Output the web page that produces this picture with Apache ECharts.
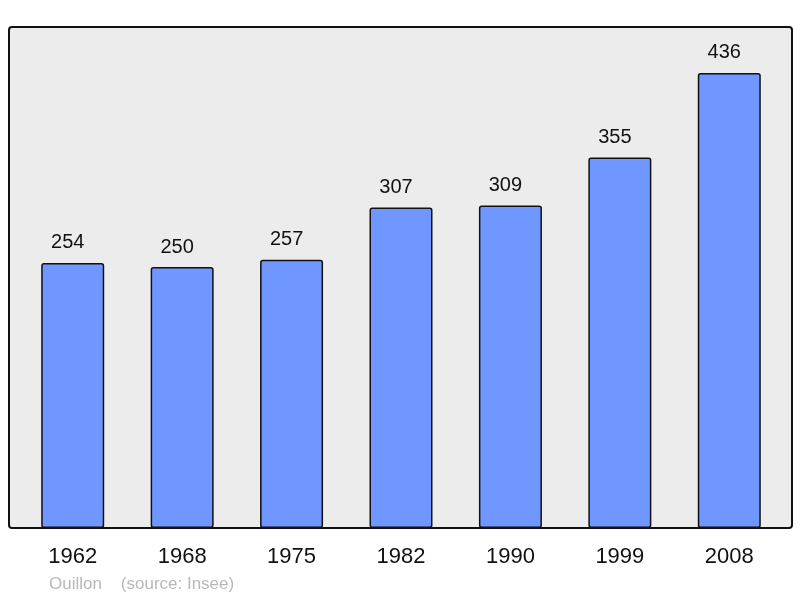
<!DOCTYPE html>
<html>
<head>
<meta charset="utf-8">
<script src="https://cdn.jsdelivr.net/npm/echarts@6/dist/echarts.min.js"></script>
<style>
  html, body { margin: 0; padding: 0; background: #fff; }
  #chart { width: 800px; height: 598px; }
</style>
</head>
<body>
<div id="chart"></div>
<script>
// population figures
const years = ['1962', '1968', '1975', '1982', '1990', '1999', '2008']
const population = [254, 250, 257, 307, 309, 355, 436]

const chart = echarts.init(document.getElementById('chart'), null, { renderer: 'canvas' })
chart.setOption({
  animation: false,
  backgroundColor: '#ffffff',
  textStyle: { fontFamily: 'Liberation Sans, Arial, sans-serif' },
  grid: {
    left: 18,
    top: 27,
    width: 766,
    height: 501
  },
  graphic: [
    {
      type: 'rect',
      z: -1,
      shape: { x: 9, y: 27, width: 783, height: 501, r: 3 },
      style: { fill: '#ececec', stroke: '#111', lineWidth: 2 }
    },
    {
      type: 'text',
      left: 49,
      top: 576,
      style: {
        text: 'Ouillon    (source: Insee)',
        fill: '#b8b8b8',
        font: '17px Liberation Sans, Arial, sans-serif'
      }
    }
  ],
  xAxis: {
    type: 'category',
    data: years,
    axisLine: { show: false },
    axisTick: { show: false },
    axisLabel: {
      color: '#111',
      fontSize: 22,
      margin: 18
    }
  },
  yAxis: {
    type: 'value',
    min: 0,
    max: 480,
    show: false,
    splitLine: { show: false }
  },
  series: [{
    type: 'bar',
    data: population,
    barWidth: 63,
    itemStyle: {
      color: '#7097ff',
      borderColor: '#111',
      borderWidth: 1.5,
      borderRadius: 2
    },
    label: {
      show: true,
      position: 'top',
      distance: 10,
      offset: [-5, 0],
      color: '#111',
      fontSize: 20
    }
  }]
})
</script>
</body>
</html>
